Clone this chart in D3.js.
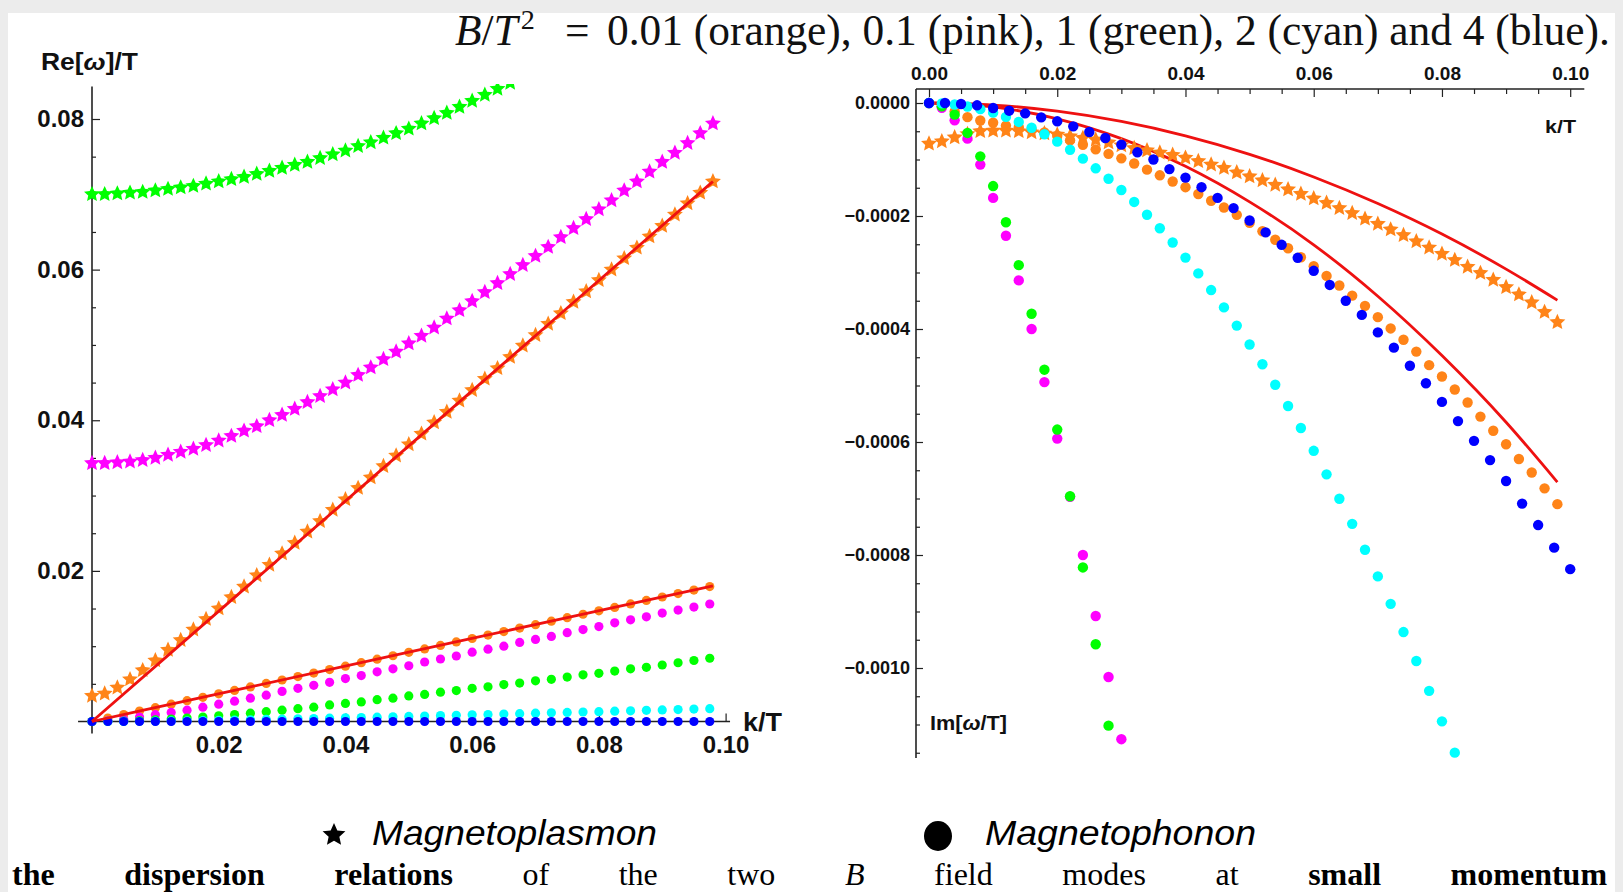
<!DOCTYPE html>
<html><head><meta charset="utf-8">
<script src="https://cdn.jsdelivr.net/npm/d3@7"></script>
<style>
html,body{margin:0;padding:0;background:#ececec;overflow:hidden}
svg{display:block}
</style></head><body>
<svg id="c" width="1623" height="892"></svg>
<script>
// ---------- DATA ----------
// Left panel: Re[omega]/T versus k/T
const kStarL = [0,0.002,0.004,0.006,0.008,0.010,0.012,0.014,0.016,0.018,0.020,0.022,0.024,0.026,0.028,0.030,0.032,0.034,0.036,0.038,0.040,0.042,0.044,0.046,0.048,0.050,0.052,0.054,0.056,0.058,0.060,0.062,0.064,0.066,0.068,0.070,0.072,0.074,0.076,0.078,0.080,0.082,0.084,0.086,0.088,0.090,0.092,0.094,0.096,0.098];
const reStarGreen = [0.0700,0.0700,0.0701,0.0702,0.0703,0.0705,0.0707,0.0709,0.0711,0.0714,0.0717,0.0720,0.0723,0.0727,0.0731,0.0735,0.0739,0.0743,0.0748,0.0753,0.0758,0.0764,0.0769,0.0775,0.0781,0.0787,0.0794,0.0801,0.0808,0.0816,0.0824,0.0832,0.0840,0.0848,0.0856,0.0864];
const reStarPink = [0.0343,0.0343,0.0344,0.0345,0.0347,0.0350,0.0354,0.0358,0.0362,0.0367,0.0373,0.0379,0.0386,0.0392,0.0400,0.0407,0.0415,0.0424,0.0432,0.0441,0.0450,0.0460,0.0470,0.0481,0.0491,0.0502,0.0512,0.0523,0.0535,0.0546,0.0558,0.0570,0.0582,0.0594,0.0606,0.0618,0.0630,0.0643,0.0655,0.0667,0.0680,0.0692,0.0705,0.0717,0.0730,0.0743,0.0755,0.0768,0.0781,0.0794];
const reStarOrange = [0.0034,0.0037,0.0045,0.0056,0.0068,0.0081,0.0095,0.0108,0.0122,0.0136,0.0150,0.0165,0.0179,0.0194,0.0208,0.0223,0.0237,0.0252,0.0266,0.0281,0.0295,0.0310,0.0324,0.0339,0.0353,0.0368,0.0382,0.0397,0.0411,0.0426,0.0440,0.0455,0.0469,0.0484,0.0499,0.0513,0.0528,0.0542,0.0557,0.0571,0.0586,0.0600,0.0615,0.0629,0.0644,0.0658,0.0673,0.0688,0.0702,0.0717];

const kDotL = [0,0.0025,0.005,0.0075,0.01,0.0125,0.015,0.0175,0.02,0.0225,0.025,0.0275,0.03,0.0325,0.035,0.0375,0.04,0.0425,0.045,0.0475,0.05,0.0525,0.055,0.0575,0.06,0.0625,0.065,0.0675,0.07,0.0725,0.075,0.0775,0.08,0.0825,0.085,0.0875,0.09,0.0925,0.095,0.0975];
const reDotOrange = [0,0.00046,0.00092,0.00138,0.00184,0.0023,0.00276,0.00321,0.00367,0.00413,0.00459,0.00505,0.00551,0.00597,0.00643,0.00689,0.00735,0.00781,0.00827,0.00873,0.00918,0.00964,0.0101,0.01056,0.01102,0.01148,0.01194,0.0124,0.01286,0.01332,0.01378,0.01424,0.0147,0.01515,0.01561,0.01607,0.01653,0.01699,0.01745,0.01791];
const reDotPink = [0,0.0001,0.0003,0.0006,0.0009,0.0012,0.0015,0.0019,0.0023,0.0027,0.0031,0.0035,0.0040,0.0044,0.0048,0.0052,0.0057,0.0061,0.0066,0.0070,0.0074,0.0079,0.0083,0.0087,0.0092,0.0096,0.0100,0.0105,0.0109,0.0113,0.0118,0.0122,0.0126,0.0131,0.0135,0.0139,0.0144,0.0148,0.0152,0.0156];
const reDotGreen = [0,0.00002,0.00006,0.00013,0.00022,0.00033,0.00046,0.0006,0.00076,0.00093,0.0011,0.0013,0.0015,0.0017,0.0019,0.0022,0.0024,0.0026,0.0029,0.0031,0.0034,0.0036,0.0039,0.0041,0.0044,0.0046,0.0049,0.0051,0.0054,0.0056,0.0059,0.0062,0.0064,0.0067,0.0070,0.0072,0.0075,0.0078,0.0081,0.0084];
const reDotCyan = [0,0.0000,0.00001,0.00003,0.00005,0.00007,0.0001,0.00013,0.00016,0.0002,0.00023,0.00027,0.00031,0.00035,0.0004,0.00044,0.00049,0.00053,0.00058,0.00063,0.00068,0.00073,0.00078,0.00083,0.00088,0.00093,0.00099,0.00104,0.0011,0.00115,0.0012,0.00126,0.00131,0.00137,0.00142,0.00148,0.00154,0.00159,0.00165,0.0017];
const reDotBlue = [0,0,0,0,0,0,0,0,0,0,0,0,0,0,0,0,0,0,0,0,0,0,0,0,0,0,0,0,0,0,0,0,0,0,0,0,0,0,0,0];

const kRedL = [0,0.025,0.05,0.075,0.098];
const reRedUpper = [0,0.0183,0.0366,0.0549,0.0717];
const reRedLower = [0,0.0046,0.0092,0.0138,0.0180];

// Right panel: Im[omega/T] versus k/T
const kR = [0,0.002,0.004,0.006,0.008,0.010,0.012,0.014,0.016,0.018,0.020,0.022,0.024,0.026,0.028,0.030,0.032,0.034,0.036,0.038,0.040,0.042,0.044,0.046,0.048,0.050,0.052,0.054,0.056,0.058,0.060,0.062,0.064,0.066,0.068,0.070,0.072,0.074,0.076,0.078,0.080,0.082,0.084,0.086,0.088,0.090,0.092,0.094,0.096,0.098];
const imStarOrange = [-0.000072,-0.000068,-0.000061,-0.000055,-0.000050,-0.000049,-0.000049,-0.000050,-0.000052,-0.000054,-0.000056,-0.000059,-0.000062,-0.000065,-0.000070,-0.000075,-0.000080,-0.000084,-0.000088,-0.000092,-0.000097,-0.000103,-0.000109,-0.000115,-0.000123,-0.000130,-0.000137,-0.000145,-0.000153,-0.000161,-0.000169,-0.000177,-0.000186,-0.000195,-0.000205,-0.000214,-0.000224,-0.000234,-0.000245,-0.000256,-0.000267,-0.000278,-0.000290,-0.000301,-0.000313,-0.000326,-0.000339,-0.000353,-0.000370,-0.000388];
const imDotOrange = [0,-0.000006,-0.000015,-0.000025,-0.000031,-0.000035,-0.000040,-0.000043,-0.000047,-0.000052,-0.000058,-0.000066,-0.000074,-0.000082,-0.000090,-0.000098,-0.000107,-0.000118,-0.000128,-0.000139,-0.000149,-0.000161,-0.000173,-0.000185,-0.000198,-0.000212,-0.000227,-0.000242,-0.000257,-0.000273,-0.000289,-0.000306,-0.000323,-0.000341,-0.000359,-0.000379,-0.000399,-0.000419,-0.000440,-0.000464,-0.000484,-0.000507,-0.000530,-0.000555,-0.000580,-0.000604,-0.000630,-0.000654,-0.000682,-0.000710];
const imDotPink = [0,-0.0000085,-0.0000307,-0.0000631,-0.000109,-0.000168,-0.000235,-0.000314,-0.000400,-0.000494,-0.000594,-0.000697,-0.000800,-0.000908,-0.001016,-0.001126];
const imDotGreen = [0,-0.0000059,-0.0000206,-0.000053,-0.0000944,-0.000147,-0.000211,-0.000287,-0.000373,-0.000472,-0.000578,-0.000696,-0.000822,-0.000958,-0.001102];
const imDotCyan = [0,-0.0000007,-0.0000027,-0.0000062,-0.0000109,-0.0000171,-0.0000246,-0.0000335,-0.0000438,-0.0000554,-0.0000684,-0.0000828,-0.0000985,-0.0001156,-0.0001341,-0.0001539,-0.0001751,-0.0001977,-0.0002216,-0.0002469,-0.0002736,-0.0003016,-0.0003311,-0.0003618,-0.000394,-0.0004275,-0.0004624,-0.0004986,-0.0005363,-0.0005752,-0.0006156,-0.0006573,-0.0007004,-0.0007449,-0.0007907,-0.0008379,-0.0008865,-0.0009364,-0.0009877,-0.0010404,-0.0010944,-0.0011498];
const kBlueR = [0,0.0025,0.005,0.0075,0.01,0.0125,0.015,0.0175,0.02,0.0225,0.025,0.0275,0.03,0.0325,0.035,0.0375,0.04,0.0425,0.045,0.0475,0.05,0.0525,0.055,0.0575,0.06,0.0625,0.065,0.0675,0.07,0.0725,0.075,0.0775,0.08,0.0825,0.085,0.0875,0.09,0.0925,0.095,0.0975,0.1];
const imDotBlue = [0,0,-0.0000018,-0.0000041,-0.0000089,-0.0000136,-0.0000183,-0.0000254,-0.0000324,-0.0000413,-0.0000513,-0.000062,-0.0000737,-0.0000873,-0.0001,-0.000117,-0.000132,-0.000149,-0.000168,-0.000186,-0.000208,-0.000229,-0.000251,-0.000274,-0.000297,-0.000322,-0.00035,-0.000375,-0.000406,-0.000433,-0.000465,-0.000496,-0.000529,-0.000563,-0.000598,-0.000632,-0.000669,-0.000709,-0.000747,-0.000787,-0.000825];
const kRedR = [0,0.01,0.02,0.03,0.04,0.05,0.06,0.07,0.08,0.09,0.098];
const imRedUpper = [0,-0.0000036,-0.0000145,-0.0000327,-0.0000581,-0.0000908,-0.000131,-0.000178,-0.000232,-0.000294,-0.000349];
const imRedLower = [0,-0.000007,-0.000028,-0.000063,-0.000112,-0.000175,-0.000251,-0.000342,-0.000447,-0.000565,-0.000671];

// tick values
const ticksXL = [0.02,0.04,0.06,0.08,0.10];
const minorXL = [0.005,0.01,0.015,0.025,0.03,0.035,0.045,0.05,0.055,0.065,0.07,0.075,0.085,0.09,0.095];
const ticksYL = [0.02,0.04,0.06,0.08];
const minorYL = [0.005,0.01,0.015,0.025,0.03,0.035,0.045,0.05,0.055,0.065,0.07,0.075];
const ticksXR = [0,0.02,0.04,0.06,0.08,0.10];
const minorXR = [0.005,0.01,0.015,0.025,0.03,0.035,0.045,0.05,0.055,0.065,0.07,0.075,0.085,0.09,0.095];
const ticksYR = [0,-0.0002,-0.0004,-0.0006,-0.0008,-0.0010];
const minorYR = [-0.00005,-0.0001,-0.00015,-0.00025,-0.0003,-0.00035,-0.00045,-0.0005,-0.00055,-0.00065,-0.0007,-0.00075,-0.00085,-0.0009,-0.00095,-0.00105,-0.0011,-0.00115];

const C = {orange:"#ff8418", pink:"#ff00ff", green:"#00ff00", cyan:"#00ffff", blue:"#0000ff", red:"#ee1111"};

// ---------- DRAW ----------
const svg = d3.select("#c");
svg.append("rect").attr("width",1623).attr("height",892).attr("fill","#ececec");
svg.append("rect").attr("x",8).attr("y",13).attr("width",1607).attr("height",879).attr("fill","#ffffff");

const FONT = "'Liberation Sans', Arial, Helvetica, sans-serif";
const SERIF = "'Liberation Serif', 'Times New Roman', serif";

const xL = d3.scaleLinear().domain([0,0.1]).range([92,725.6]);
const yL = d3.scaleLinear().domain([0,0.08]).range([721.5,119]);
const xR = d3.scaleLinear().domain([0,0.1]).range([929,1570.2]);
const yR = d3.scaleLinear().domain([0,-0.001]).range([103,668]);

function styleAxis(g, size){
  g.attr("color","#222");
  g.select(".domain").remove();
  g.selectAll("text").attr("font-family",FONT).attr("font-weight","bold").attr("font-size",size).attr("fill","#111");
  g.selectAll("line").attr("stroke-width",1.2);
}
function starPath(R){
  const p = d3.path();
  for(let i=0;i<10;i++){
    const r = i%2 ? R*0.47 : R;
    const a = -Math.PI/2 + i*Math.PI/5;
    const x = r*Math.cos(a), y = r*Math.sin(a);
    if(i===0) p.moveTo(x,y); else p.lineTo(x,y);
  }
  p.closePath();
  return p.toString();
}

const defs = svg.append("defs");
defs.append("clipPath").attr("id","clipL").append("rect").attr("x",70).attr("y",84).attr("width",670).attr("height",660);
defs.append("clipPath").attr("id","clipR").append("rect").attr("x",900).attr("y",89).attr("width",700).attr("height",669);

// ---- Left axes ----
const gL = svg.append("g");
gL.append("line").attr("x1",xL(-0.0022)).attr("x2",xL(0.1007)).attr("y1",yL(0)).attr("y2",yL(0)).attr("stroke","#222").attr("stroke-width",1.6);
gL.append("line").attr("x1",xL(0)).attr("x2",xL(0)).attr("y1",yL(-0.0016)).attr("y2",yL(0.0843)).attr("stroke","#222").attr("stroke-width",1.6);
gL.append("g").attr("transform",`translate(0,${yL(0)})`).call(d3.axisTop(xL).tickValues(ticksXL).tickSize(8).tickFormat("")).call(g=>styleAxis(g,24));
gL.append("g").attr("transform",`translate(0,${yL(0)})`).call(d3.axisTop(xL).tickValues(minorXL).tickSize(4).tickFormat("")).call(g=>styleAxis(g,24));
gL.append("g").attr("transform",`translate(0,${yL(0)})`).call(d3.axisBottom(xL).tickValues(ticksXL).tickSize(0).tickPadding(14).tickFormat(d3.format(".2f"))).call(g=>styleAxis(g,24));
gL.append("g").attr("transform",`translate(${xL(0)},0)`).call(d3.axisRight(yL).tickValues(ticksYL).tickSize(8).tickFormat("")).call(g=>styleAxis(g,24));
gL.append("g").attr("transform",`translate(${xL(0)},0)`).call(d3.axisRight(yL).tickValues(minorYL).tickSize(4).tickFormat("")).call(g=>styleAxis(g,24));
gL.append("g").attr("transform",`translate(${xL(0)},0)`).call(d3.axisLeft(yL).tickValues(ticksYL).tickSize(0).tickPadding(8).tickFormat(d3.format(".2f"))).call(g=>styleAxis(g,24));

const tRe = gL.append("text").attr("x",41).attr("y",70).attr("font-family",FONT).attr("font-weight","bold").attr("font-size",23)
  .attr("textLength",97).attr("lengthAdjust","spacingAndGlyphs").attr("fill","#111");
tRe.append("tspan").text("Re[");
tRe.append("tspan").attr("font-style","italic").text("ω");
tRe.append("tspan").text("]/T");
gL.append("text").attr("x",743).attr("y",731).attr("font-family",FONT).attr("font-weight","bold").attr("font-size",25)
  .attr("textLength",39).attr("lengthAdjust","spacingAndGlyphs").attr("fill","#111").text("k/T");

// ---- Right axes ----
const gR = svg.append("g");
const topY = 89;
gR.append("line").attr("x1",916).attr("x2",xR(0.1022)).attr("y1",topY).attr("y2",topY).attr("stroke","#222").attr("stroke-width",1.6);
gR.append("line").attr("x1",916).attr("x2",916).attr("y1",topY).attr("y2",758).attr("stroke","#222").attr("stroke-width",1.6);
gR.append("g").attr("transform",`translate(0,${topY})`).call(d3.axisBottom(xR).tickValues(ticksXR).tickSize(8).tickFormat("")).call(g=>styleAxis(g,18));
gR.append("g").attr("transform",`translate(0,${topY})`).call(d3.axisBottom(xR).tickValues(minorXR).tickSize(5).tickFormat("")).call(g=>styleAxis(g,18));
gR.append("g").attr("transform",`translate(0,${topY})`).call(d3.axisTop(xR).tickValues(ticksXR).tickSize(0).tickPadding(9).tickFormat(d3.format(".2f"))).call(g=>styleAxis(g,19));
gR.append("g").attr("transform",`translate(916,0)`).call(d3.axisRight(yR).tickValues(ticksYR).tickSize(7).tickFormat("")).call(g=>styleAxis(g,18));
gR.append("g").attr("transform",`translate(916,0)`).call(d3.axisRight(yR).tickValues(minorYR).tickSize(4).tickFormat("")).call(g=>styleAxis(g,18));
gR.append("g").attr("transform",`translate(916,0)`).call(d3.axisLeft(yR).tickValues(ticksYR).tickSize(0).tickPadding(6).tickFormat(d3.format(".4f"))).call(g=>styleAxis(g,18));

gR.append("text").attr("x",1545).attr("y",133).attr("font-family",FONT).attr("font-weight","bold").attr("font-size",19)
  .attr("textLength",31).attr("lengthAdjust","spacingAndGlyphs").attr("fill","#111").text("k/T");
const tIm = gR.append("text").attr("x",930).attr("y",730).attr("font-family",FONT).attr("font-weight","bold").attr("font-size",20)
  .attr("textLength",77).attr("lengthAdjust","spacingAndGlyphs").attr("fill","#111");
tIm.append("tspan").text("Im[");
tIm.append("tspan").attr("font-style","italic").text("ω");
tIm.append("tspan").text("/T]");

// ---- marks ----
const starD = starPath(8.4);
function dots(g, ks, vs, xs, ys, color, r){
  g.append("g").selectAll("circle").data(vs.map((v,i)=>[ks[i],v])).join("circle")
    .attr("cx",d=>xs(d[0])).attr("cy",d=>ys(d[1])).attr("r",r).attr("fill",color);
}
function stars(g, ks, vs, xs, ys, color){
  g.append("g").selectAll("path").data(vs.map((v,i)=>[ks[i],v])).join("path")
    .attr("d",starD).attr("transform",d=>`translate(${xs(d[0])},${ys(d[1])})`).attr("fill",color);
}
function curve(g, ks, vs, xs, ys){
  const line = d3.line().x(d=>xs(d[0])).y(d=>ys(d[1])).curve(d3.curveMonotoneX);
  g.append("path").datum(vs.map((v,i)=>[ks[i],v])).attr("d",line).attr("fill","none").attr("stroke",C.red).attr("stroke-width",2.8);
}

const pL = svg.append("g").attr("clip-path","url(#clipL)");
dots(pL, kDotL, reDotOrange, xL, yL, C.orange, 4.6);
dots(pL, kDotL, reDotPink, xL, yL, C.pink, 4.6);
dots(pL, kDotL, reDotGreen, xL, yL, C.green, 4.6);
dots(pL, kDotL, reDotCyan, xL, yL, C.cyan, 4.6);
dots(pL, kDotL, reDotBlue, xL, yL, C.blue, 4.6);
stars(pL, kStarL, reStarOrange, xL, yL, C.orange);
stars(pL, kStarL, reStarPink, xL, yL, C.pink);
stars(pL, kStarL, reStarGreen, xL, yL, C.green);
curve(pL, kRedL, reRedUpper, xL, yL);
curve(pL, kRedL, reRedLower, xL, yL);

const pR = svg.append("g").attr("clip-path","url(#clipR)");
curve(pR, kRedR, imRedUpper, xR, yR);
curve(pR, kRedR, imRedLower, xR, yR);
stars(pR, kR, imStarOrange, xR, yR, C.orange);
dots(pR, kR, imDotOrange, xR, yR, C.orange, 5.2);
dots(pR, kR, imDotPink, xR, yR, C.pink, 5.2);
dots(pR, kR, imDotGreen, xR, yR, C.green, 5.2);
dots(pR, kR, imDotCyan, xR, yR, C.cyan, 5.2);
dots(pR, kBlueR, imDotBlue, xR, yR, C.blue, 5.2);

// ---- title ----
const tail = svg.append("text").attr("x",607).attr("y",45).attr("font-family",SERIF).attr("font-size",37).attr("fill","#111")
  .text("0.01 (orange), 0.1 (pink), 1 (green), 2 (cyan) and 4 (blue).");
const fsT = 37*1003/tail.node().getComputedTextLength();
tail.attr("font-size",fsT);
const t1 = svg.append("text").attr("x",455).attr("y",45).attr("font-family",SERIF).attr("font-size",fsT).attr("fill","#111");
t1.append("tspan").attr("font-style","italic").text("B");
t1.append("tspan").text("/");
t1.append("tspan").attr("font-style","italic").text("T");
t1.append("tspan").attr("font-size",fsT*0.65).attr("dx",3).attr("dy",-16).text("2");
svg.append("text").attr("x",565).attr("y",45).attr("font-family",SERIF).attr("font-size",fsT).attr("fill","#111").text("=");

// ---- legend ----
svg.append("path").attr("d",starPath(12)).attr("transform","translate(334,835)").attr("fill","#000");
svg.append("text").attr("x",372).attr("y",845).attr("font-family",FONT).attr("font-style","italic").attr("font-size",35)
  .attr("textLength",285).attr("lengthAdjust","spacingAndGlyphs").attr("fill","#000").text("Magnetoplasmon");
svg.append("ellipse").attr("cx",938).attr("cy",836).attr("rx",14).attr("ry",15).attr("fill","#000");
svg.append("text").attr("x",985).attr("y",845).attr("font-family",FONT).attr("font-style","italic").attr("font-size",35)
  .attr("textLength",271).attr("lengthAdjust","spacingAndGlyphs").attr("fill","#000").text("Magnetophonon");

// ---- caption line at the bottom edge ----
const cap = svg.append("text").attr("x",12).attr("y",885).attr("font-family",SERIF).attr("font-size",32).attr("fill","#000");
cap.append("tspan").attr("font-weight","bold").text("the dispersion relations");
cap.append("tspan").text(" of the two ");
cap.append("tspan").attr("font-style","italic").text("B");
cap.append("tspan").text(" field modes at ");
cap.append("tspan").attr("font-weight","bold").text("small momentum");
const capW = cap.node().getComputedTextLength();
cap.style("word-spacing", Math.max(0,(1595-capW)/11) + "px");
</script>
</body></html>
